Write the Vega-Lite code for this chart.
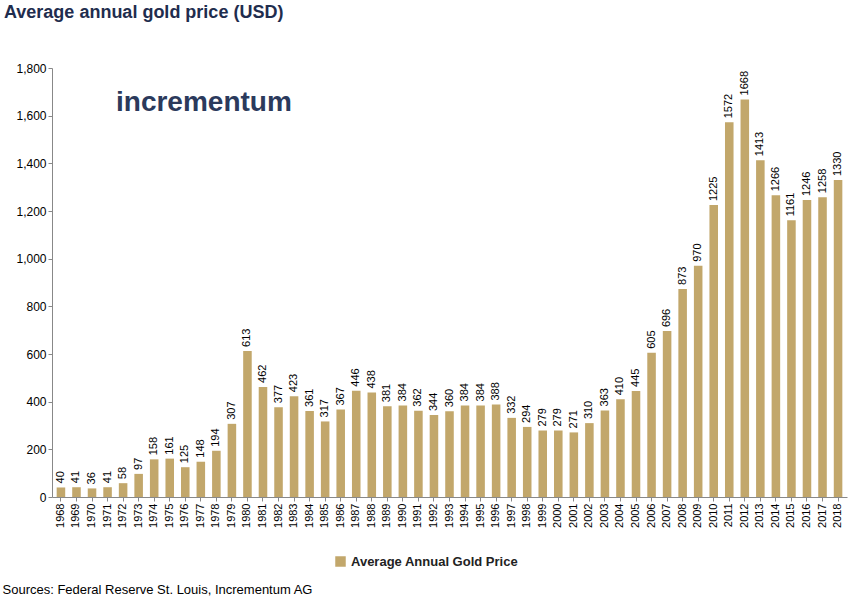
{
"$schema":"https://vega.github.io/schema/vega-lite/v6.json",
"autosize":{"type":"none"},
"width":795,"height":429,
"padding":{"left":52,"top":68,"right":3,"bottom":104},
"background":"white",
"config":{"font":"Liberation Sans","view":{"stroke":null}},
"title":{"text":"Average annual gold price (USD)","anchor":"start","frame":"group","fontSize":18,"fontWeight":"bold","color":"#1F2D4E","offset":40,"dx":-48,"font":"Liberation Sans"},
"data":{"values":[
{"year":"1968","v":40},{"year":"1969","v":41},{"year":"1970","v":36},{"year":"1971","v":41},{"year":"1972","v":58},{"year":"1973","v":97},{"year":"1974","v":158},{"year":"1975","v":161},{"year":"1976","v":125},{"year":"1977","v":148},{"year":"1978","v":194},{"year":"1979","v":307},{"year":"1980","v":613},{"year":"1981","v":462},{"year":"1982","v":377},{"year":"1983","v":423},{"year":"1984","v":361},{"year":"1985","v":317},{"year":"1986","v":367},{"year":"1987","v":446},{"year":"1988","v":438},{"year":"1989","v":381},{"year":"1990","v":384},{"year":"1991","v":362},{"year":"1992","v":344},{"year":"1993","v":360},{"year":"1994","v":384},{"year":"1995","v":384},{"year":"1996","v":388},{"year":"1997","v":332},{"year":"1998","v":294},{"year":"1999","v":279},{"year":"2000","v":279},{"year":"2001","v":271},{"year":"2002","v":310},{"year":"2003","v":363},{"year":"2004","v":410},{"year":"2005","v":445},{"year":"2006","v":605},{"year":"2007","v":696},{"year":"2008","v":873},{"year":"2009","v":970},{"year":"2010","v":1225},{"year":"2011","v":1572},{"year":"2012","v":1668},{"year":"2013","v":1413},{"year":"2014","v":1266},{"year":"2015","v":1161},{"year":"2016","v":1246},{"year":"2017","v":1258},{"year":"2018","v":1330}
]},
"encoding":{
"x":{"field":"year","type":"nominal","scale":{"paddingInner":0.45,"paddingOuter":0.3},
"axis":{"labelAngle":-90,"labelFontSize":11,"labelColor":"#000","domainColor":"#888","tickColor":"#888","tickSize":4,
"title":"Sources: Federal Reserve St. Louis, Incrementum AG","titleAnchor":"start","titleAlign":"left","titleX":-50,"titleY":86,"titleFontWeight":"normal","titleFontSize":13,"titleColor":"#000"}},
"y":{"field":"v","type":"quantitative","scale":{"domain":[0,1800]},
"axis":{"title":null,"values":[0,200,400,600,800,1000,1200,1400,1600,1800],"format":",.0f","grid":false,"labelFontSize":12,"labelColor":"#000","domainColor":"#888","tickColor":"#888","tickSize":4}}
},
"layer":[
{"mark":{"type":"bar"},"encoding":{"color":{"datum":"Average Annual Gold Price","scale":{"range":["#C2A76B"]},
"legend":{"title":null,"orient":"none","legendX":282,"legendY":487,"symbolType":"square","symbolSize":110,"labelFontSize":13,"labelFontWeight":"bold","labelColor":"#222","labelLimit":400}}}},
{"mark":{"type":"text","angle":-90,"align":"left","baseline":"middle","dx":4,"fontSize":11,"color":"#000"},"encoding":{"text":{"field":"v","type":"quantitative","format":"d"}}},
{"data":{"values":[{"year":"1970","v":1655}]},"mark":{"type":"text","text":"incrementum","align":"left","baseline":"middle","dx":24,"fontSize":28,"fontWeight":"bold","color":"#2B3A5C","font":"Liberation Sans"}}
]
}
